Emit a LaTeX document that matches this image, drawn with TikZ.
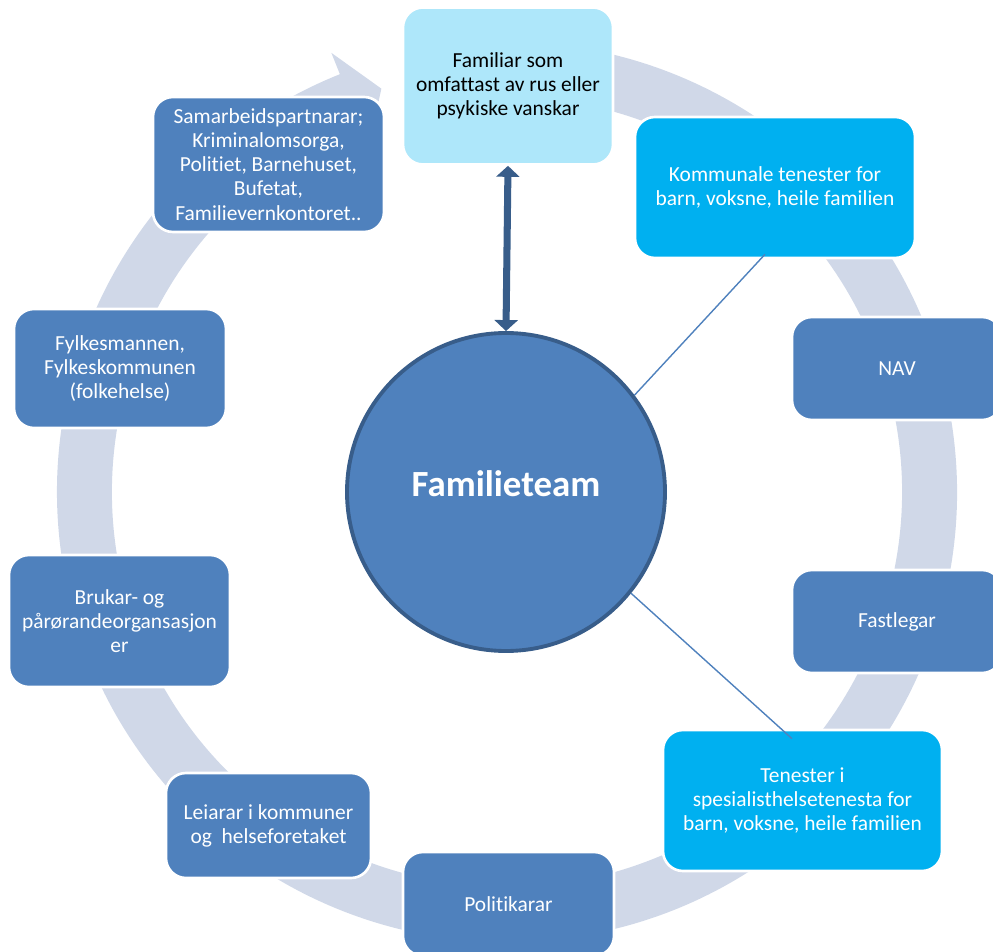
\documentclass[tikz,border=0pt]{standalone}
\usepackage{fontspec}
\setmainfont{Carlito}[Ligatures={NoCommon,NoContextual}]
\usetikzlibrary{arrows.meta}
\definecolor{ringgrey}{RGB}{208,216,232}
\definecolor{steel}{RGB}{79,129,189}
\definecolor{darksteel}{RGB}{56,93,138}
\definecolor{skyblue}{RGB}{0,176,240}
\definecolor{paleblue}{RGB}{174,231,250}
\begin{document}
\begin{tikzpicture}[box/.style={rectangle,rounded corners=0.4cm,draw=white,line width=1.5pt,fill=steel,text=white,align=center,inner sep=2pt,font=\fontsize{12.2}{13.7}\selectfont},
    hub/.style={circle,draw=darksteel,line width=2.2pt,fill=steel,text=white,minimum size=6.36cm,text depth=0.34cm,font=\fontsize{21}{25}\selectfont\bfseries},
    link/.style={draw=steel,line width=0.8pt}]
                \useasboundingbox (-10.14,-9.18) rectangle (9.72,9.84);
                % Ring with its arrow head
                \fill[ringgrey] (100:9.0) arc[start angle=100,end angle=-248.2,radius=9.0]
                    -- (-248.2:9.46) -- (-252.7:8.45) -- (-248.2:7.44) -- (-248.2:7.9)
                    arc[start angle=-248.2,end angle=100,radius=7.9] -- cycle;
                % Box positions round the ring
                \coordinate (Pfamil) at (0.02,8.12);
                \coordinate (Pkomm) at (5.36,6.09);
                \coordinate (Pnav) at (7.8,2.47);
                \coordinate (Pfast) at (7.8,-2.59);
                \coordinate (Pspes) at (5.91,-6.17);
                \coordinate (Ppol) at (0.03,-8.24);
                \coordinate (Pleiar) at (-4.77,-6.67);
                \coordinate (Pbruk) at (-7.75,-2.58);
                \coordinate (Pfylk) at (-7.74,2.47);
                \coordinate (Psamarb) at (-4.77,6.55);
                % Boxes
                \node[box, fill=paleblue, text=black, minimum width=4.2cm, minimum height=3.14cm] (famil) at (Pfamil) {Familiar som\\omfattast av rus eller\\psykiske vanskar};
                \node[box, fill=skyblue, minimum width=5.6cm, minimum height=2.82cm] (komm) at (Pkomm) {Kommunale tenester for\\barn, voksne, heile familien};
                \node[box, minimum width=4.2cm, minimum height=2.06cm] (nav) at (Pnav) {NAV};
                \node[box, minimum width=4.2cm, minimum height=2.06cm] (fast) at (Pfast) {Fastlegar};
                \node[box, fill=skyblue, minimum width=5.58cm, minimum height=2.82cm] (spes) at (Pspes) {Tenester i\\spesialisthelsetenesta for\\barn, voksne, heile familien};
                \node[box, minimum width=4.22cm, minimum height=2.08cm] (pol) at (Ppol) {Politikarar};
                \node[box, minimum width=4.1cm, minimum height=2.1cm] (leiar) at (Pleiar) {Leiarar i kommuner\\og\ \ helseforetaket};
                \node[box, minimum width=4.42cm, minimum height=2.64cm] (bruk) at (Pbruk) {Brukar- og\\pårørandeorgansasjon\\er};
                \node[box, minimum width=4.24cm, minimum height=2.38cm] (fylk) at (Pfylk) {Fylkesmannen,\\Fylkeskommunen\\(folkehelse)};
                \node[box, minimum width=4.62cm, minimum height=2.7cm] (samarb) at (Psamarb) {Samarbeidspartnarar;\\Kriminalomsorga,\\Politiet, Barnehuset,\\Bufetat,\\Familievernkontoret..};
                % Centre
                \node[hub] (fam) at (-0.02,0) {Familieteam};
                % Links
                \draw[darksteel, line width=4pt, {Triangle[width=0.46cm,length=0.22cm]}-{Triangle[width=0.46cm,length=0.22cm]}] (fam.north) -- (famil.south);
                \draw[link] (fam.37) -- ([xshift=-0.2cm,yshift=0.1cm]komm.south);
                \draw[link] (fam.-39) -- ([xshift=-0.21cm,yshift=-0.2cm]spes.north);
            \end{tikzpicture}
\end{document}
